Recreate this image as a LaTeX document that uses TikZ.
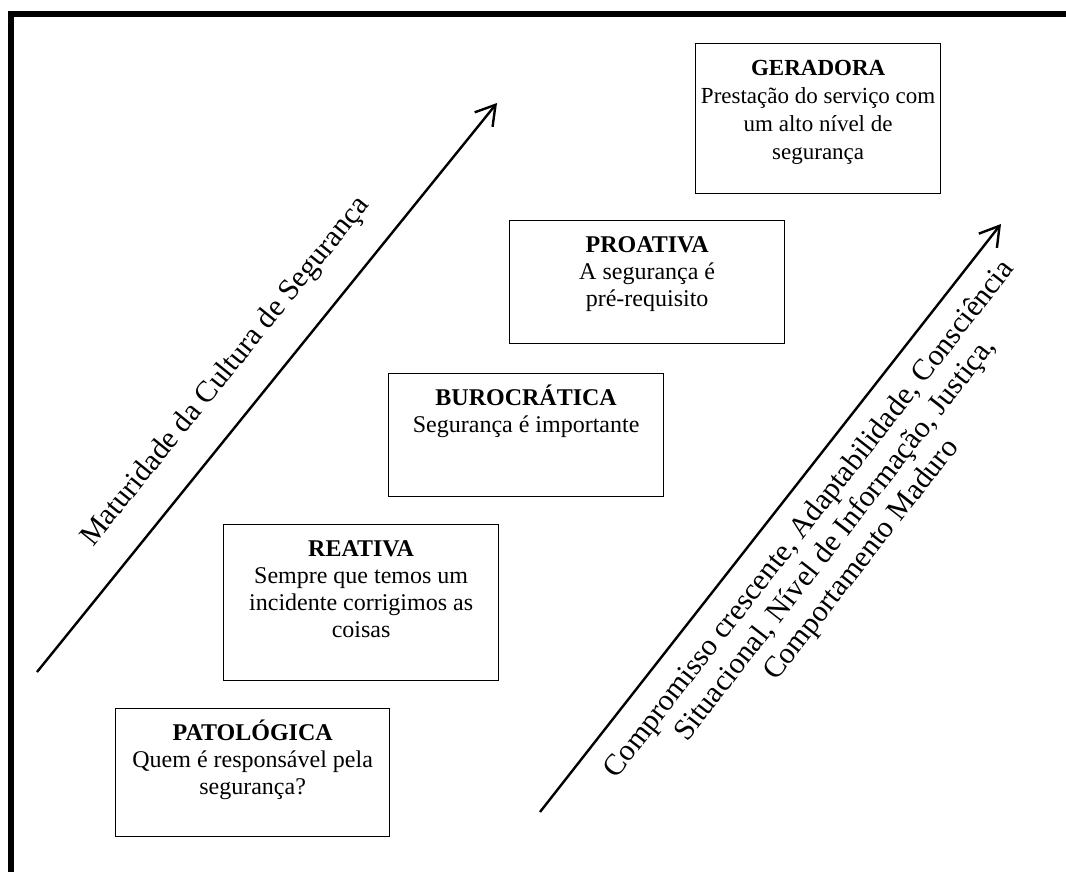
\documentclass[tikz,border=0pt]{standalone}
\usepackage{fontspec}
\setmainfont{Liberation Serif}
\usetikzlibrary{arrows.meta}
\tikzset{
  stagebox/.style={draw, line width=1.3pt, inner sep=0pt, anchor=north west,
    font=\fontsize{24}{27}\selectfont},
  axisarrow/.style={line width=2.4pt,
    -{Straight Barb[length=19pt,width=23pt,line width=2.4pt]}},
  axislabel/.style={font=\fontsize{30}{33}\selectfont, align=center, inner sep=0pt},
  frameline/.style={line width=5.5pt, line join=miter}
}
\newcommand{\stagetext}[4]{\parbox[c][#2][t]{#1}{\centering\rule{0pt}{31.5pt}\textbf{#3}\\#4}}
\begin{document}
\begin{tikzpicture}[x=1pt,y=-1pt]
\useasboundingbox (0,0) rectangle (1066,872);
\fill[white] (0,0) rectangle (1066,872);
% frame
\draw[frameline] (11,900) -- (11,14) -- (1100,14);
% stage boxes
\node[stagebox] (pat) at (115,708) {\stagetext{274pt}{128pt}{PATOLÓGICA}{Quem é responsável pela\\segurança?}};
\node[stagebox] (rea) at (223,524) {\stagetext{275pt}{156pt}{REATIVA}{Sempre que temos um\\incidente corrigimos as\\coisas}};
\node[stagebox] (bur) at (388,373) {\stagetext{275pt}{123pt}{BUROCRÁTICA}{Segurança é importante}};
\node[stagebox] (pro) at (509,220) {\stagetext{275pt}{123pt}{PROATIVA}{A segurança é\\pré-requisito}};
\node[stagebox, font=\fontsize{23}{28}\selectfont] (ger) at (695,43) {\stagetext{245pt}{150pt}{GERADORA}{Prestação do serviço com\\um alto nível de\\segurança}};
% axes
\coordinate (l0) at (37,672);
\coordinate (l1) at (497,103);
\coordinate (r0) at (540,812);
\coordinate (r1) at (1001,224);
\draw[axisarrow] (l0) -- (l1);
\draw[axisarrow] (r0) -- (r1);
\node[axislabel, rotate=51] (lab1) at (226,372) {Maturidade da Cultura de Segurança};
\node[axislabel, rotate=52] (lab2) at (836,540) {Compromisso crescente, Adaptabilidade, Consciência\\Situacional, Nível de Informação, Justiça,\\Comportamento Maduro};
\end{tikzpicture}
\end{document}
